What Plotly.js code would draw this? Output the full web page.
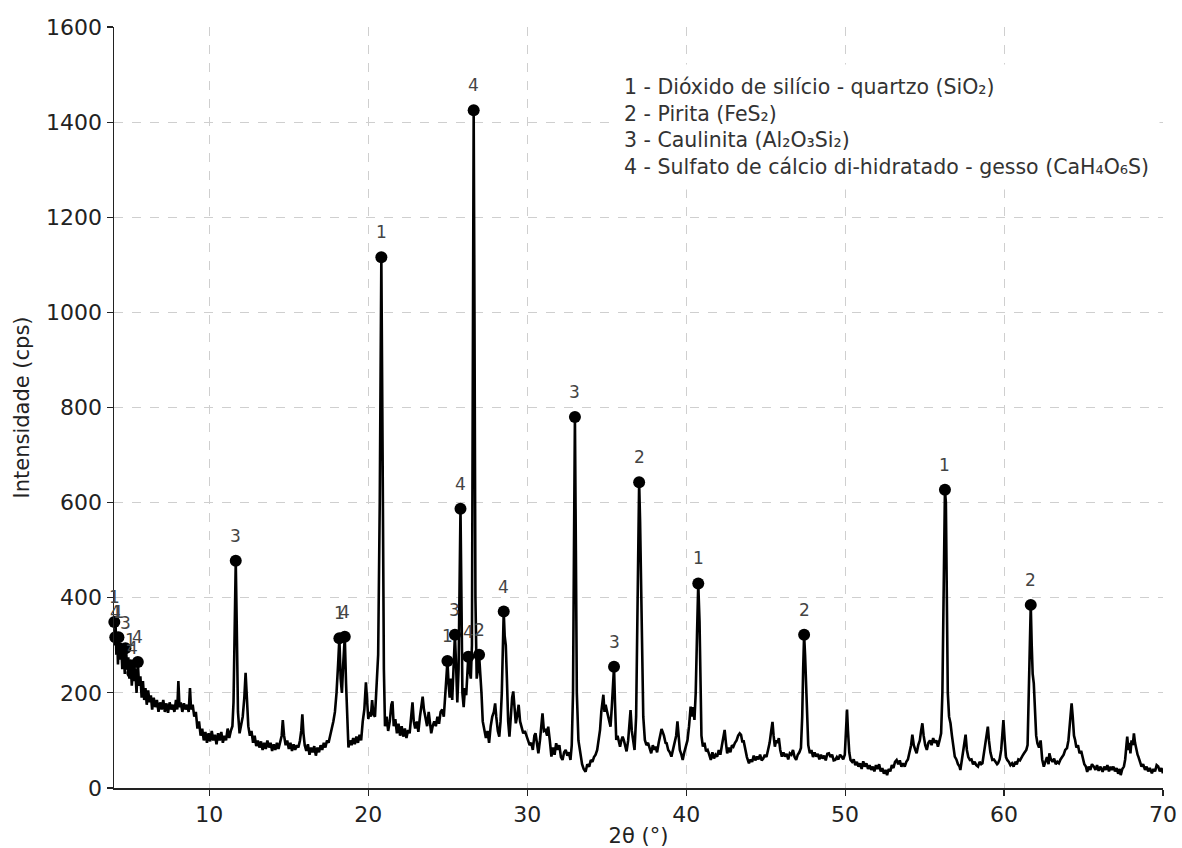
<!DOCTYPE html>
<html>
<head>
<meta charset="utf-8">
<script src="https://cdn.plot.ly/plotly-3.0.1.min.js"></script>
<style>html,body{margin:0;padding:0;background:#fff;}#chart{width:1182px;height:848px;}</style>
</head>
<body>
<div id="chart"></div>
<script>
// Diffractogram (2θ in degrees, intensity in cps)
var twoTheta = [4.00,4.05,4.10,4.15,4.20,4.25,4.30,4.38,4.45,4.52,4.60,4.68,4.75,4.82,4.90,4.97,5.05,5.12,5.20,5.28,5.35,5.42,5.50,5.58,5.66,5.74,5.82,5.90,5.98,6.06,6.15,6.24,6.32,6.40,6.50,6.60,6.70,6.80,6.90,7.00,7.10,7.20,7.30,7.40,7.50,7.60,7.70,7.80,7.90,7.98,8.05,8.12,8.20,8.30,8.40,8.50,8.60,8.70,8.78,8.85,8.95,9.05,9.15,9.25,9.35,
9.45,9.55,9.65,9.75,9.85,9.95,10.05,10.15,10.25,10.35,10.45,10.55,10.65,10.75,10.85,10.95,11.05,11.15,11.25,11.35,11.45,
11.52,11.60,11.66,11.72,11.80,11.90,12.00,12.10,12.20,12.28,12.36,12.45,12.55,12.65,12.75,12.85,12.95,13.05,13.15,13.25,13.35,13.45,13.55,13.65,13.75,13.85,13.95,14.05,14.15,14.25,14.35,14.45,14.55,14.62,14.70,14.80,14.90,15.00,15.10,15.20,15.30,15.40,15.50,15.60,15.70,15.78,15.85,15.92,16.00,16.10,16.20,16.30,16.40,16.50,16.60,16.70,16.80,16.90,17.00,17.10,17.20,17.30,17.40,17.50,17.60,17.70,17.80,17.90,18.00,18.10,18.18,18.26,18.34,18.42,18.52,18.60,18.68,18.75,18.85,18.95,19.05,19.15,19.25,19.35,19.45,19.55,19.65,19.75,19.85,19.92,20.00,20.08,20.16,20.24,20.32,20.42,20.52,20.62,20.72,20.82,20.90,20.98,21.05,21.15,21.25,21.35,21.45,21.52,21.60,21.70,21.80,21.90,22.00,22.10,22.20,22.30,22.40,22.50,22.60,22.70,22.78,22.86,22.95,23.05,23.15,23.25,23.35,23.42,23.50,23.60,23.70,23.80,23.88,23.96,24.05,24.15,24.25,24.35,24.45,24.55,24.65,24.75,24.85,24.92,24.98,25.05,25.12,25.20,25.28,25.36,25.45,25.52,25.60,25.68,25.75,25.80,25.86,25.92,26.00,26.08,26.16,26.22,26.29,26.36,26.45,26.52,26.58,26.63,26.68,26.74,26.82,26.90,26.97,27.04,27.12,27.20,27.30,27.40,27.50,27.60,27.70,27.80,27.90,27.98,28.05,28.15,28.24,28.32,28.40,28.46,28.52,28.58,28.65,28.72,28.80,28.88,28.96,29.05,29.12,29.20,29.28,29.36,29.46,29.55,29.65,29.75,29.85,29.95,30.05,30.15,30.25,30.35,30.45,30.52,30.60,30.70,30.80,30.90,30.96,31.05,31.15,31.25,31.32,31.42,31.52,31.62,31.72,31.82,31.92,32.02,32.12,32.22,32.32,32.42,32.52,32.62,32.72,32.80,32.88,32.94,33.00,33.06,33.12,33.22,33.32,33.45,33.55,33.67,33.78,33.90,34.00,34.10,34.20,34.30,34.40,34.50,34.58,34.66,34.72,34.79,34.86,34.93,35.00,35.08,35.16,35.24,35.32,35.40,35.46,35.52,35.60,35.68,35.76,35.84,35.92,36.00,36.08,36.16,36.25,36.35,36.44,36.50,36.58,36.66,36.75,36.85,36.92,36.98,37.04,37.10,37.16,37.22,37.30,37.40,37.50,37.60,37.70,37.80,37.90,38.00,38.07,38.17,38.27,38.37,38.45,38.52,38.60,38.70,38.77,38.87,38.97,39.07,39.17,39.27,39.37,39.45,39.52,39.60,39.70,39.78,39.88,39.98,40.08,40.18,40.28,40.36,40.44,40.52,40.60,40.68,40.76,40.84,40.90,40.96,41.05,41.15,41.25,41.35,41.45,41.55,41.65,41.75,41.85,41.95,42.05,42.15,42.25,42.35,42.42,42.50,42.58,42.68,42.78,42.88,42.97,43.07,43.17,43.27,43.37,43.45,43.53,43.62,43.72,43.82,43.95,44.05,44.15,44.25,44.35,44.45,44.55,44.65,44.75,44.85,44.95,45.05,45.15,45.25,45.35,45.43,45.50,45.58,45.66,45.74,45.83,45.92,46.02,46.12,46.22,46.32,46.42,46.52,46.62,46.72,46.82,46.92,47.02,47.12,47.22,47.30,47.36,47.42,47.48,47.54,47.60,47.68,47.78,47.88,47.98,48.08,48.18,48.28,48.38,48.48,48.58,48.68,48.78,48.88,48.98,49.08,49.18,49.28,49.38,49.48,49.58,49.68,49.78,49.88,49.98,50.06,50.12,50.18,50.26,50.34,50.44,50.54,50.64,50.74,50.84,50.94,51.04,51.14,51.24,51.34,51.44,51.54,51.64,51.74,51.84,51.94,52.04,52.14,52.24,52.34,52.44,52.54,52.64,52.74,52.84,52.94,53.04,53.14,53.24,53.34,53.44,53.54,53.64,53.75,53.85,53.95,54.05,54.15,54.23,54.32,54.42,54.50,54.60,54.70,54.78,54.86,54.94,55.04,55.14,55.24,55.34,55.44,55.54,55.64,55.74,55.84,55.94,56.04,56.12,56.20,56.28,56.34,56.40,56.46,56.54,56.63,56.72,56.80,56.90,57.00,57.10,57.20,57.25,57.35,57.45,57.52,57.58,57.66,57.75,57.85,57.95,58.05,58.15,58.25,58.36,58.46,58.56,58.64,58.72,58.82,58.92,58.98,59.05,59.14,59.26,59.36,59.46,59.56,59.62,59.72,59.82,59.90,59.96,60.04,60.12,60.20,60.30,60.40,60.50,60.60,60.70,60.80,60.90,61.00,61.10,61.20,61.30,61.40,61.48,61.56,61.62,61.68,61.74,61.80,61.87,61.94,62.02,62.10,62.20,62.30,62.40,62.50,62.60,62.70,62.80,62.85,62.95,63.05,63.15,63.25,63.35,63.45,63.55,63.65,63.75,63.85,63.96,64.05,64.15,64.25,64.32,64.40,64.47,64.55,64.65,64.75,64.85,64.95,65.05,65.15,65.23,65.33,65.43,65.53,65.65,65.75,65.85,65.95,66.05,66.20,66.30,66.40,66.50,66.60,66.70,66.78,66.88,66.98,67.08,67.18,67.28,67.34,67.44,67.54,67.62,67.70,67.75,67.82,67.90,67.95,68.02,68.10,68.17,68.24,68.32,68.40,68.45,68.55,68.65,68.75,68.87,68.97,69.07,69.17,69.30,69.40,69.50,69.60,69.70,69.80,69.90,70.00];
var intensity = [330,300,345,280,320,260,315,270,305,250,290,240,295,255,275,230,260,215,255,225,240,200,262,215,235,190,225,185,210,175,205,180,195,165,190,170,185,160,180,165,185,160,178,158,180,165,175,160,185,165,225,170,180,160,178,165,175,160,210,165,175,150,160,125,140,
110,125,100,118,95,115,98,120,100,112,92,115,100,118,95,110,100,125,105,120,130,
180,380,478,350,160,115,130,150,190,242,190,130,110,120,95,110,88,100,85,98,80,95,82,100,85,95,78,92,80,95,82,100,110,143,110,90,100,82,95,78,92,80,90,85,100,120,155,115,90,78,92,70,85,75,88,68,85,75,90,80,95,85,100,95,110,120,140,160,200,260,315,230,200,260,318,220,120,85,100,90,105,92,108,95,112,100,140,165,222,175,145,160,150,185,155,150,210,280,600,1116,700,250,130,150,120,140,175,182,130,145,115,135,110,130,108,125,105,122,115,150,180,140,125,140,118,150,180,192,165,150,130,160,140,115,130,140,130,150,135,160,165,150,200,240,267,220,190,230,185,250,322,260,180,250,420,587,400,200,170,210,195,240,276,250,230,300,900,1425,1000,400,230,250,280,250,200,140,120,105,120,95,130,150,160,178,150,120,108,140,200,330,371,320,300,230,140,108,150,190,203,160,136,150,175,140,129,115,120,108,100,90,95,80,110,115,90,73,100,150,157,120,122,110,129,100,66,85,70,94,80,90,65,59,75,80,68,75,59,90,200,500,780,500,200,100,73,50,40,34,50,45,59,55,65,70,80,100,122,160,185,196,160,175,164,150,140,129,170,240,255,180,101,110,95,87,100,108,100,85,77,100,140,164,120,95,80,150,300,520,643,560,460,300,150,101,90,95,85,73,90,80,87,75,95,110,124,118,110,95,94,80,75,66,80,90,110,140,115,80,70,59,75,87,100,130,171,150,170,143,200,320,430,350,200,110,87,95,77,80,70,59,75,62,70,66,80,70,90,110,122,95,73,85,75,90,87,95,100,110,115,112,98,98,80,65,52,60,55,68,58,66,60,70,58,62,70,65,80,95,120,139,110,87,100,95,105,80,66,75,66,72,60,73,70,80,65,59,70,75,84,150,250,322,280,230,150,90,73,80,65,75,66,72,60,70,62,68,58,72,73,65,70,58,59,65,60,70,66,60,70,120,165,120,75,59,55,60,48,55,45,52,40,56,45,52,40,48,38,45,35,48,40,50,35,42,30,38,27,40,35,48,42,55,59,50,58,45,52,45,55,60,75,90,112,90,80,73,90,100,120,136,110,90,80,95,100,90,105,95,100,87,100,115,200,450,627,600,400,200,150,136,110,90,66,60,50,45,38,60,80,100,112,80,65,59,60,50,55,48,45,55,50,52,70,90,115,129,100,75,59,60,55,50,52,60,80,110,143,100,65,59,55,48,52,45,55,50,60,58,66,70,75,80,90,200,330,385,300,240,220,150,110,94,85,100,60,45,55,65,50,73,60,55,62,50,55,52,60,65,70,80,84,100,140,178,150,110,101,85,90,73,78,60,50,45,34,45,38,50,45,38,48,36,45,34,45,38,48,35,45,38,45,35,42,30,40,27,40,45,60,90,108,80,95,73,100,90,115,95,80,70,66,55,45,50,38,45,35,42,31,40,35,48,45,35,42,31];

// Identified peaks (phase number shown above each marker)
var peakTheta = [4.02,4.08,4.28,4.72,5.03,5.15,5.50,11.66,18.18,18.52,20.82,24.98,25.45,25.80,26.29,26.63,26.97,28.52,33.00,35.46,37.04,40.76,47.42,56.28,61.68];
var peakIntensity = [349,317,317,294,258,242,265,478,315,318,1116,267,322,587,276,1425,280,371,780,255,643,430,322,627,385];
var peakPhase = ["1","4","1","3","1","4","4","3","1","4","1","1","3","4","4","4","2","4","3","3","2","1","2","1","2"];

var legendLines = [
  "1 - Dióxido de silício - quartzo (SiO₂)",
  "2 - Pirita (FeS₂)",
  "3 - Caulinita (Al₂O₃Si₂)",
  "4 - Sulfato de cálcio di-hidratado - gesso (CaH₄O₆S)"
];

var FONT = "DejaVu Sans, sans-serif";

var traces = [
  {
    x: twoTheta, y: intensity, type: "scatter", mode: "lines",
    line: {color: "#000", width: 2.6}, hoverinfo: "skip"
  },
  {
    x: peakTheta, y: peakIntensity, type: "scatter", mode: "markers",
    marker: {color: "#000", size: 12}, cliponaxis: false
  }
];

var annotations = peakTheta.map(function (t, i) {
  return {
    x: t, y: peakIntensity[i], xref: "x", yref: "y", text: peakPhase[i],
    showarrow: false, yshift: 25, font: {family: FONT, size: 17, color: "#444"}
  };
});
annotations.push({
  xref: "paper", yref: "paper", x: 0.476, y: 0.952, xanchor: "left", yanchor: "top",
  text: legendLines.join("<br>"), align: "left", showarrow: false,
  bgcolor: "#fff", borderpad: 10,
  font: {family: FONT, size: 20.5, color: "#333"}
});

var layout = {
  width: 1182, height: 848,
  margin: {l: 114, r: 19, t: 27, b: 60},
  paper_bgcolor: "#fff", plot_bgcolor: "#fff",
  showlegend: false,
  font: {family: FONT, color: "#222"},
  xaxis: {
    range: [4, 70], tickvals: [10, 20, 30, 40, 50, 60, 70],
    showgrid: true, gridcolor: "#cfcfcf", griddash: "dash", gridwidth: 1,
    zeroline: false, showline: true, linecolor: "#222", linewidth: 1.5,
    ticks: "outside", ticklen: 6, tickcolor: "#222", tickwidth: 1.2,
    tickfont: {family: FONT, size: 22, color: "#222"},
    title: {text: "2θ (°)", font: {family: FONT, size: 21, color: "#222"}, standoff: 5}
  },
  yaxis: {
    range: [0, 1600], dtick: 200,
    showgrid: true, gridcolor: "#cfcfcf", griddash: "dash", gridwidth: 1,
    zeroline: false, showline: true, linecolor: "#222", linewidth: 1.5,
    ticks: "outside", ticklen: 6, tickcolor: "#222", tickwidth: 1.2,
    tickfont: {family: FONT, size: 22, color: "#222"},
    title: {text: "Intensidade (cps)", font: {family: FONT, size: 21, color: "#222"}, standoff: 10}
  },
  annotations: annotations
};

Plotly.newPlot("chart", traces, layout, {displayModeBar: false, staticPlot: true});
</script>
</body>
</html>
